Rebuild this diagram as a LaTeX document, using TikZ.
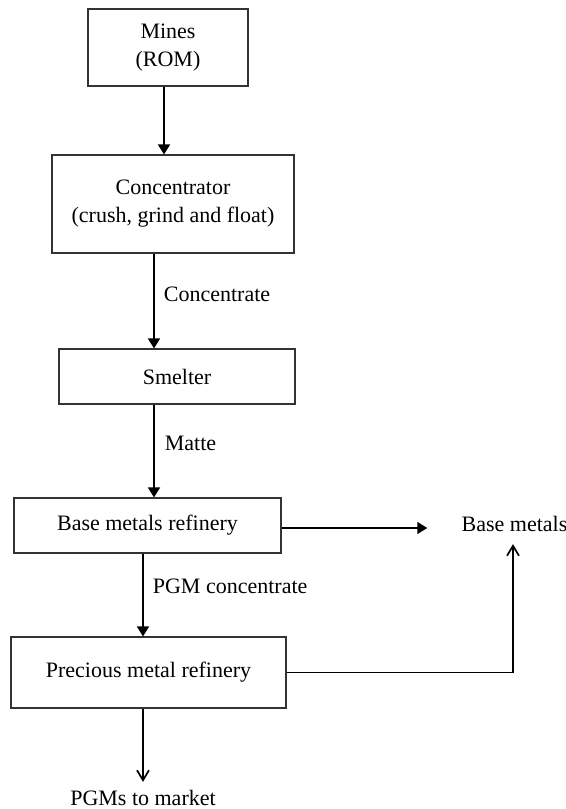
\documentclass[tikz,border=0pt]{standalone}
\usepackage{fontspec}
\setmainfont{Liberation Serif}
\usetikzlibrary{arrows.meta,positioning}
\tikzset{
  pgmstage/.style={
    draw=black!80,
    line width=0.6pt,
    align=center,
    inner sep=2pt,
    font=\fontsize{11}{14}\selectfont
  },
  pgmflow/.style={-{Triangle[length=5pt,width=6pt]},line width=0.85pt},
  pgmopen/.style={-{Straight Barb[length=5pt,width=6pt]},line width=0.85pt},
  pgmlabel/.style={font=\fontsize{11}{14}\selectfont,inner sep=1pt}
}

\begin{document}
\begin{tikzpicture}[x=0.5pt,y=-0.5pt]
  \useasboundingbox (0,0) rectangle (566,809);

  % process stages, top to bottom
  \node[pgmstage,minimum width=80pt,minimum height=38.5pt] (mines) at (168,47.5)
    {Mines\\(ROM)};
  \node[pgmstage,minimum width=121pt,minimum height=49pt] (conc) at (173,204)
    {Concentrator\\(crush, grind and float)};
  \node[pgmstage,minimum width=118pt,minimum height=27.5pt] (smelter) at (177,376.5)
    {Smelter};
  \node[pgmstage,minimum width=133.5pt,minimum height=27.5pt] (bmr) at (147.5,525.5)
    {Base metals refinery};
  \node[pgmstage,minimum width=137.5pt,minimum height=35.5pt] (pmr) at (148.5,672.5)
    {Precious metal refinery};

  % products
  \node[pgmlabel] (bmetals) at (514.5,524) {Base metals};
  \node[pgmlabel] (market) at (143,798) {PGMs to market};

  % main flow
  \draw[pgmflow] ([xshift=-2pt]mines.south) -- ([xshift=-2pt]mines.south |- conc.north);
  \draw[pgmflow] ([xshift=-9.5pt]conc.south) -- ([xshift=-9.5pt]conc.south |- smelter.north)
    node[pgmlabel,pos=0.43,right=3.5pt] {Concentrate};
  \draw[pgmflow] ([xshift=-11.5pt]smelter.south) -- ([xshift=-11.5pt]smelter.south |- bmr.north)
    node[pgmlabel,pos=0.42,right=4pt] {Matte};
  \draw[pgmflow] ([xshift=-2.25pt]bmr.south) -- ([xshift=-2.25pt]bmr.south |- pmr.north)
    node[pgmlabel,pos=0.4,right=3.5pt] {PGM concentrate};
  \draw[pgmopen,shorten >=3pt] ([xshift=-2.75pt]pmr.south) -- ([xshift=-2.75pt]pmr.south |- market.north);

  % base metals side streams
  \draw[pgmflow,shorten >=16pt] ([yshift=-1.25pt]bmr.east) -- ([yshift=-1.25pt]bmr.east -| bmetals.west);
  \draw[pgmopen,shorten >=5pt] (pmr.east) -| ([xshift=-0.75pt]bmetals.south);
\end{tikzpicture}
\end{document}
